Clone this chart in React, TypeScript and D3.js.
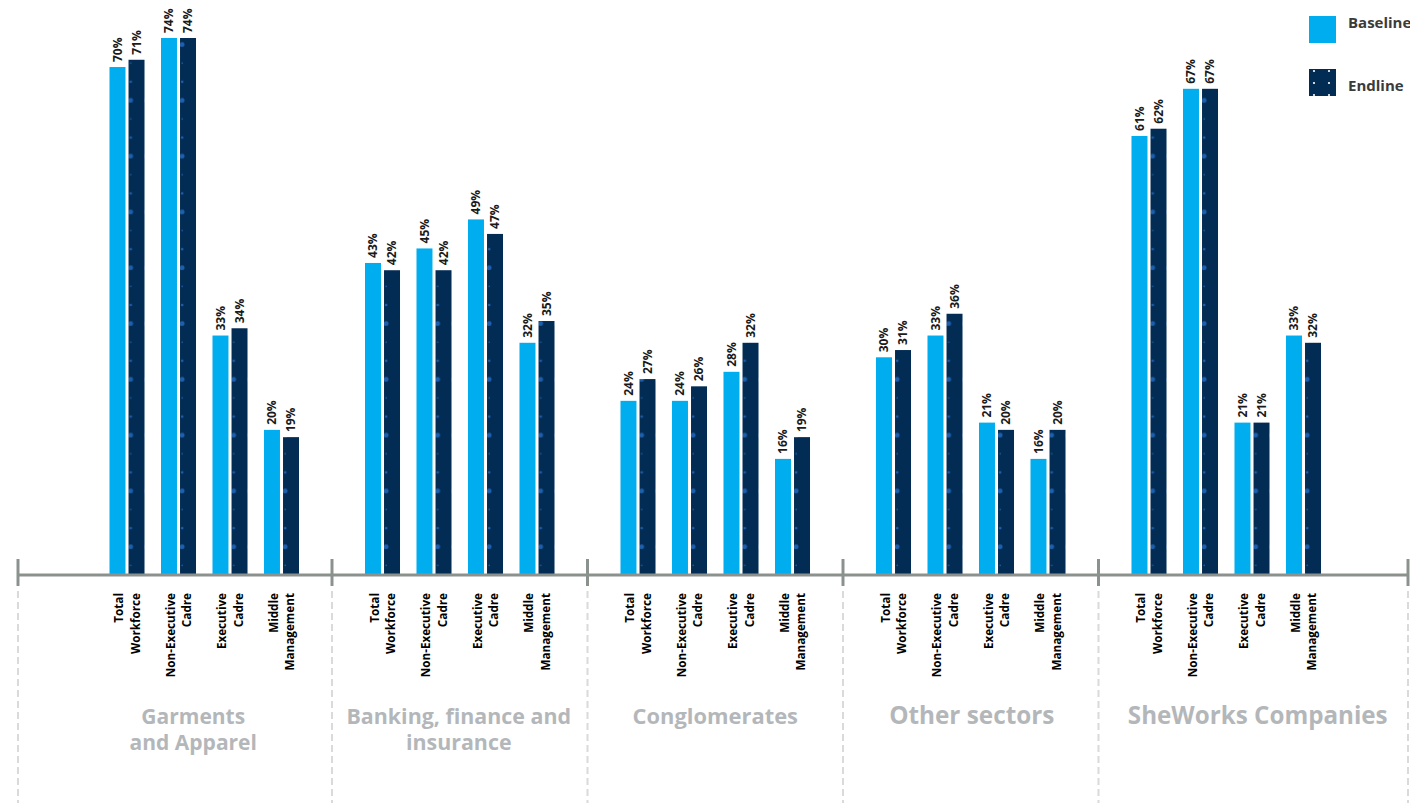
import React from "react";
import * as d3 from "d3";

const groups = ["Garments and Apparel", "Banking, finance and insurance", "Conglomerates", "Other sectors", "SheWorks Companies"];
const groupLabelLines = [["Garments", "and Apparel"], ["Banking, finance and", "insurance"], ["Conglomerates"], ["Other sectors"], ["SheWorks Companies"]];
const categories = ["Total Workforce", "Non-Executive Cadre", "Executive Cadre", "Middle Management"];
const categoryLines = [["Total", "Workforce"], ["Non-Executive", "Cadre"], ["Executive", "Cadre"], ["Middle", "Management"]];
const seriesNames = ["Baseline", "Endline"];
const baseline = [
  [70, 74, 33, 20],
  [43, 45, 49, 32],
  [24, 24, 28, 16],
  [30, 33, 21, 16],
  [60.5, 67, 21, 33],
];
const endline = [
  [71, 74, 34, 19],
  [42, 42, 47, 35],
  [27, 26, 32, 19],
  [31, 36, 20, 20],
  [61.5, 67, 21, 32],
];

const W = 1410;
const H = 803;
const AXIS_Y = 575;
const CYAN = "#00aeef";
const NAVY = "#022c54";
const DOT = "#1c5fae";
const FONT = "'Open Sans', sans-serif";
const labelOffsets = [-11, -1, 0, 1, 31.5];
const labelSizes = [21, 21.4, 21.9, 24.3, 24.2];

export default function App() {
  const y = d3.scaleLinear().domain([0, 74]).range([AXIS_Y, 38]);
  const x0 = d3.scaleBand<string>().domain(groups).range([76.5, 1354]);
  const x1 = d3.scaleBand<string>().domain(categories).range([-103, 103]).paddingInner(0.32).paddingOuter(0.16);
  const xs = d3.scaleBand<string>().domain(seriesNames).range([0, x1.bandwidth()]).paddingInner(0.16);
  const bw = xs.bandwidth();
  const fmt = (v: number) => `${Math.round(v)}%`;

  const dividers = [18, ...groups.slice(1).map((g) => x0(g)!), 1408];

  return (
    <svg width={W} height={H} style={{ position: "absolute", left: 0, top: 0, background: "#fff" }} fontFamily={FONT}>
      <defs>
        {groups.map((g, gi) =>
          categories.map((c, ci) => {
            const cx = x0(g)! + x0.bandwidth() / 2 + x1(c)! + xs("Endline")!;
            return (
              <pattern key={`p-${gi}-${ci}`} id={`dots-${gi}-${ci}`} patternUnits="userSpaceOnUse" x={cx} y={AXIS_Y} width={bw} height={55.8}>
                <rect width={bw} height={55.8} fill={NAVY} />
                <circle cx={2.2} cy={9} r={1.3} fill={DOT} />
                <circle cx={2.2} cy={27.6} r={2.4} fill={DOT} />
                <circle cx={2.2} cy={46.2} r={0.8} fill={DOT} />
              </pattern>
            );
          })
        )}
      </defs>

      {/* dashed separators */}
      {dividers.map((d, i) => (
        <line key={`dl-${i}`} x1={d} x2={d} y1={591} y2={H} stroke="#dadada" strokeWidth={2} strokeDasharray="7 4" />
      ))}

      {/* bars */}
      {groups.map((g, gi) => {
        const gx = x0(g)! + x0.bandwidth() / 2;
        const lx = gx + labelOffsets[gi];
        return (
          <g key={g}>
            {categories.map((c, ci) => {
              const px = gx + x1(c)!;
              const bx = px + xs("Baseline")!;
              const ex = px + xs("Endline")!;
              const bv = baseline[gi][ci];
              const ev = endline[gi][ci];
              return (
                <g key={c}>
                  <rect x={bx} y={y(bv)} width={bw} height={AXIS_Y - y(bv)} fill={CYAN} />
                  <rect x={ex} y={y(ev)} width={bw} height={AXIS_Y - y(ev)} fill={`url(#dots-${gi}-${ci})`} />
                  <text transform={`translate(${bx + bw / 2},${y(bv) - 5}) rotate(-90)`} dy={4.2} fontSize={12} fontWeight={700} fill="#1a1a1a">
                    {fmt(bv)}
                  </text>
                  <text transform={`translate(${ex + bw / 2},${y(ev) - 5}) rotate(-90)`} dy={4.2} fontSize={12} fontWeight={700} fill="#1a1a1a">
                    {fmt(ev)}
                  </text>
                  <text transform={`translate(${px + x1.bandwidth() / 2},593) rotate(-90)`} textAnchor="end" fontSize={11.7} fontWeight={700} fill="#000">
                    {categoryLines[ci].map((l, li) => (
                      <tspan key={li} x={0} y={li === 0 ? -4 : 12.5}>
                        {l}
                      </tspan>
                    ))}
                  </text>
                </g>
              );
            })}
            <text x={lx} y={724} textAnchor="middle" fontSize={labelSizes[gi]} fontWeight={700} fill="#b4b7ba">
              {groupLabelLines[gi].map((l, li) => (
                <tspan key={li} x={lx} y={724 + li * 26}>
                  {l}
                </tspan>
              ))}
            </text>
          </g>
        );
      })}

      {/* axis */}
      <line x1={18} x2={1408} y1={AXIS_Y} y2={AXIS_Y} stroke="#8b928e" strokeWidth={3} />
      {dividers.map((d, i) => (
        <line key={`tk-${i}`} x1={d} x2={d} y1={559} y2={586} stroke="#8b928e" strokeWidth={3} />
      ))}

      {/* legend */}
      <rect x={1309} y={16} width={27} height={27} fill={CYAN} />
      <text x={1348} y={28} fontSize={15} fontWeight={700} fill="#3b3b3b">Baseline</text>
      <rect x={1309} y={69} width={27} height={27} fill={NAVY} />
      {[0, 1, 2].map((r) =>
        [0, 1].map((c) => (
          <circle key={`lg-${r}-${c}`} cx={1314 + c * 15} cy={71 + r * 12} r={1.1} fill="#fff" />
        ))
      )}
      <text x={1348} y={91} fontSize={15} fontWeight={700} fill="#3b3b3b">Endline</text>
    </svg>
  );
}
